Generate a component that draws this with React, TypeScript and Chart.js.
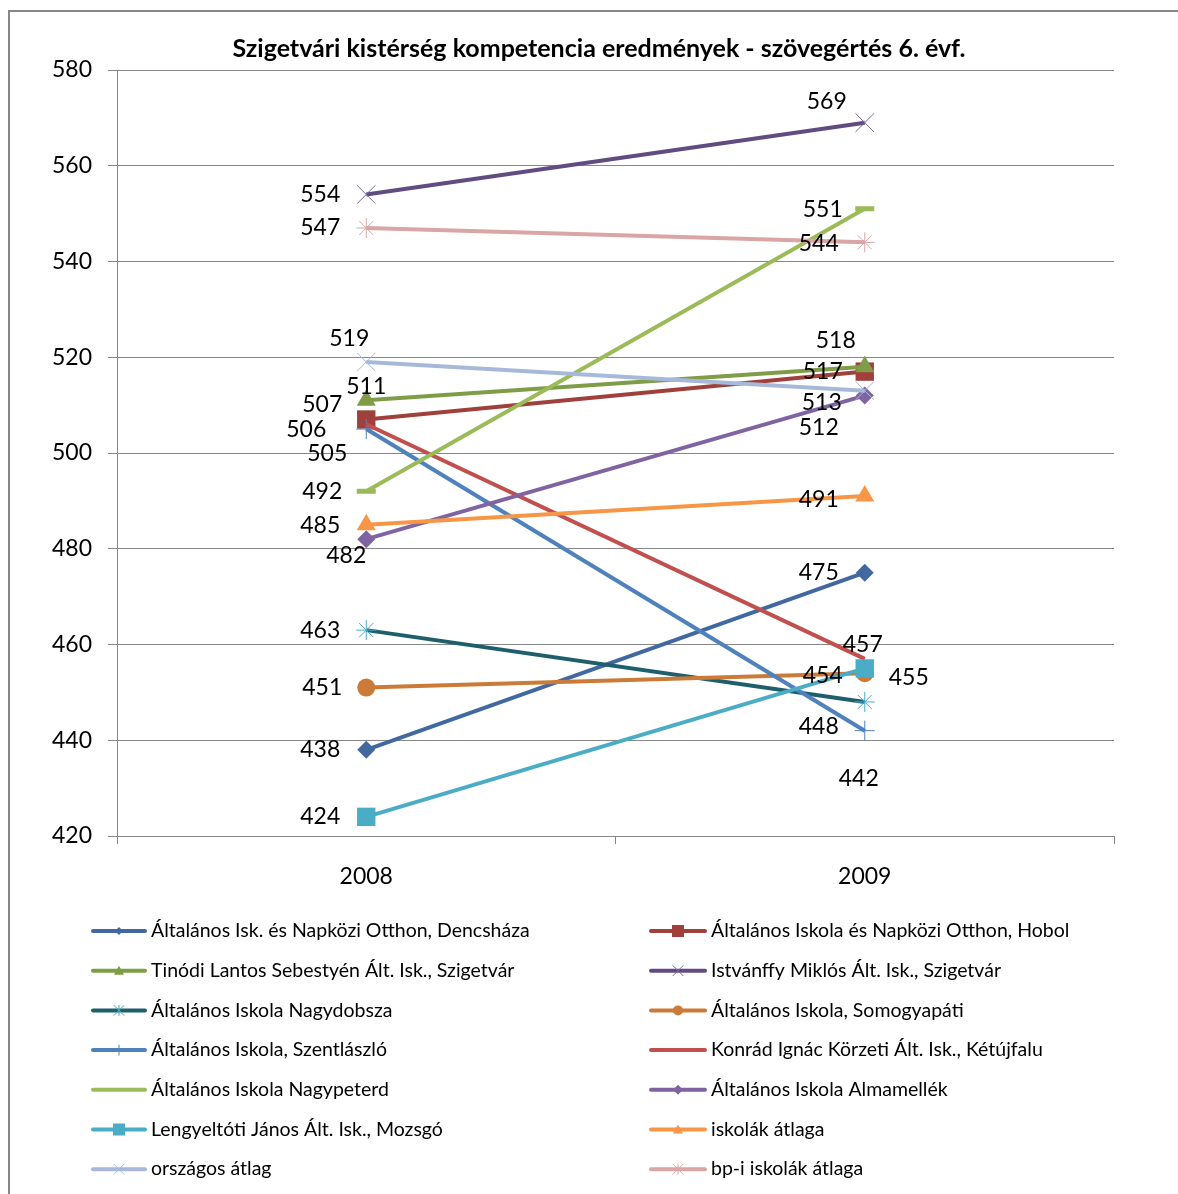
import React, { useEffect, useRef } from "react";
import { Chart, registerables } from "chart.js";
Chart.register(...registerables);

// ---- data ----
const years = ["2008", "2009"];
const seriesNames = [
  "Általános Isk. és Napközi Otthon, Dencsháza",
  "Általános Iskola és Napközi Otthon, Hobol",
  "Tinódi Lantos Sebestyén Ált. Isk., Szigetvár",
  "Istvánffy Miklós Ált. Isk., Szigetvár",
  "Általános Iskola Nagydobsza",
  "Általános Iskola, Somogyapáti",
  "Általános Iskola, Szentlászló",
  "Konrád Ignác Körzeti Ált. Isk., Kétújfalu",
  "Általános Iskola Nagypeterd",
  "Általános Iskola Almamellék",
  "Lengyeltóti János Ált. Isk., Mozsgó",
  "iskolák átlaga",
  "országos átlag",
  "bp-i iskolák átlaga",
];
const dencshaza = [438, 475];
const hobol = [507, 517];
const tinodi = [511, 518];
const istvanffy = [554, 569];
const nagydobsza = [463, 448];
const somogyapati = [451, 454];
const szentlaszlo = [505, 442];
const ketujfalu = [506, 457];
const nagypeterd = [492, 551];
const almamellek = [482, 512];
const mozsgo = [424, 455];
const iskolakAtlaga = [485, 491];
const orszagosAtlag = [519, 513];
const bpAtlaga = [547, 544];
const seriesValues = [
  dencshaza, hobol, tinodi, istvanffy, nagydobsza, somogyapati, szentlaszlo,
  ketujfalu, nagypeterd, almamellek, mozsgo, iskolakAtlaga, orszagosAtlag, bpAtlaga,
];
const yMin = 420;
const yMax = 580;
const yStep = 20;
const chartTitle = "Szigetvári kistérség kompetencia eredmények - szövegértés 6. évf.";

// ---- styles ----
const lineColors = [
  "#4169A0", "#A0403D", "#7F9C46", "#624B80", "#1F5F6C", "#CC7A38", "#4F81BD",
  "#C0504D", "#9BBB59", "#8064A2", "#4BACC6", "#F79646", "#A7B9D9", "#D9A6A5",
];
const markerColors = [
  "#4169A0", "#A0403D", "#7F9C46", "#7A68A0", "#4BACC6", "#CC7A38", "#4F81BD",
  "#C0504D", "#9BBB59", "#8064A2", "#4BACC6", "#F79646", "#A7B9D9", "#D9A6A5",
];
const markerStyles = [
  "rectRot", "rect", "triangle", "crossRot", "star", "circle", "cross",
  "none", "line", "rectRot", "rect", "triangle", "crossRot", "star",
];
const markerRadius = [9, 13, 11, 13, 10, 9, 10, 0, 9.5, 9, 13, 11, 13, 10];
// label offsets (dx, dy) from point, per series per category
const labelOffsets = [
  [[-46, 0], [-46, 0]],
  [[-44, -15], [-42, 0]],
  [[0, -14], [-29, -26]],
  [[-46, 0], [-38, -21]],
  [[-46, 0], [-46, 25]],
  [[-44, 0], [-42, 2]],
  [[-39, 25], [-6, 48]],
  [[-60, 5], [-2, -14]],
  [[-44, 0], [-42, 1]],
  [[-20, 16], [-46, 32]],
  [[-46, 0], [44, 9]],
  [[-46, 1], [-46, 3]],
  [[-17, -23], [-43, 12]],
  [[-46, 0], [-46, 1]],
];
const FONT = "Lato, 'Open Sans', sans-serif";
const GRID = "#878787";

function drawMarker(ctx: CanvasRenderingContext2D, style: string, x: number, y: number, r: number, color: string) {
  ctx.save();
  ctx.fillStyle = color;
  ctx.strokeStyle = color;
  ctx.lineWidth = 1;
  ctx.beginPath();
  if (style === "rect") {
    ctx.rect(x - r, y - r, 2 * r, 2 * r);
    ctx.fill();
  } else if (style === "rectRot") {
    ctx.moveTo(x - r, y); ctx.lineTo(x, y - r); ctx.lineTo(x + r, y); ctx.lineTo(x, y + r);
    ctx.closePath(); ctx.fill();
  } else if (style === "triangle") {
    ctx.moveTo(x, y - r); ctx.lineTo(x + r, y + r * 0.8); ctx.lineTo(x - r, y + r * 0.8);
    ctx.closePath(); ctx.fill();
  } else if (style === "circle") {
    ctx.arc(x, y, r, 0, Math.PI * 2); ctx.fill();
  } else if (style === "cross") {
    ctx.moveTo(x, y - r); ctx.lineTo(x, y + r); ctx.stroke();
  } else if (style === "crossRot") {
    ctx.moveTo(x - r, y - r); ctx.lineTo(x + r, y + r);
    ctx.moveTo(x + r, y - r); ctx.lineTo(x - r, y + r); ctx.stroke();
  } else if (style === "star") {
    ctx.moveTo(x, y - r); ctx.lineTo(x, y + r);
    ctx.moveTo(x - r, y - r); ctx.lineTo(x + r, y + r);
    ctx.moveTo(x + r, y - r); ctx.lineTo(x - r, y + r); ctx.stroke();
  }
  ctx.restore();
}

const legendMarkerSize = [4, 6, 5, 5, 5, 5, 5, 0, 0, 5, 6, 5, 5, 5];

const legendPlugin = {
  id: "customLegend",
  afterDraw(chart: any) {
    const ctx = chart.ctx as CanvasRenderingContext2D;
    ctx.save();
    ctx.font = `19.5px ${FONT}`;
    ctx.textBaseline = "middle";
    ctx.textAlign = "left";
    seriesNames.forEach((name, i) => {
      const col = i % 2;
      const row = Math.floor(i / 2);
      const y = 931 + row * 39.7;
      const x0 = col === 0 ? 93 : 651;
      const x1 = col === 0 ? 145 : 705;
      ctx.strokeStyle = lineColors[i];
      ctx.lineWidth = 4;
      ctx.lineCap = "round";
      ctx.beginPath();
      ctx.moveTo(x0, y); ctx.lineTo(x1, y); ctx.stroke();
      drawMarker(ctx, markerStyles[i], (x0 + x1) / 2, y, legendMarkerSize[i], markerColors[i]);
      ctx.fillStyle = "#000";
      ctx.fillText(name, col === 0 ? 151 : 711, y);
    });
    ctx.restore();
  },
};

const titlePlugin = {
  id: "customTitle",
  afterDraw(chart: any) {
    const ctx = chart.ctx as CanvasRenderingContext2D;
    ctx.save();
    ctx.font = `bold 25px ${FONT}`;
    ctx.fillStyle = "#000";
    ctx.textAlign = "center";
    ctx.textBaseline = "middle";
    ctx.fillText(chartTitle, 599, 49);
    ctx.restore();
  },
};

const labelPlugin = {
  id: "pointLabels",
  afterDatasetsDraw(chart: any) {
    const ctx = chart.ctx as CanvasRenderingContext2D;
    ctx.save();
    ctx.font = `23px ${FONT}`;
    ctx.fillStyle = "#000";
    ctx.textAlign = "center";
    ctx.textBaseline = "middle";
    chart.data.datasets.forEach((ds: any, i: number) => {
      const meta = chart.getDatasetMeta(i);
      meta.data.forEach((pt: any, j: number) => {
        const [dx, dy] = labelOffsets[i][j];
        ctx.fillText(String(ds.data[j]), pt.x + dx, pt.y + dy);
      });
    });
    ctx.restore();
  },
};

export default function App() {
  const ref = useRef<HTMLCanvasElement>(null);
  useEffect(() => {
    if (!ref.current) return;
    const datasets = seriesNames.map((name, i) => ({
      label: name,
      data: seriesValues[i],
      borderColor: lineColors[i],
      backgroundColor: markerColors[i],
      borderWidth: 4,
      pointStyle: markerStyles[i] === "none" ? false : markerStyles[i],
      pointRadius: markerRadius[i],
      pointBorderColor: markerColors[i],
      pointBackgroundColor: markerColors[i],
      pointBorderWidth: markerStyles[i] === "line" ? 5 : ["cross", "crossRot", "star"].includes(markerStyles[i]) ? 1 : 0,
      order: seriesNames.length - i,
      tension: 0,
    }));
    const chart = new Chart(ref.current, {
      type: "line",
      data: { labels: years, datasets: datasets as any },
      options: {
        responsive: false,
        animation: false,
        layout: { padding: { left: 0, right: 64, top: 70, bottom: 298 } },
        plugins: {
          legend: { display: false },
          tooltip: { enabled: false },
          title: { display: false },
        },
        scales: {
          x: {
            type: "category",
            offset: true,
            grid: { display: true, drawOnChartArea: false, drawTicks: true, tickLength: 8, color: GRID, offset: true },
            border: { display: true, color: GRID, width: 1 },
            ticks: { color: "#000", font: { family: FONT, size: 23 }, padding: 19 },
            afterFit: (s: any) => { s.height = 60; },
          },
          y: {
            min: yMin,
            max: yMax,
            ticks: { stepSize: yStep, color: "#000", font: { family: FONT, size: 23 }, padding: 16 },
            grid: { color: GRID, lineWidth: 1, tickLength: 9 },
            border: { display: true, color: GRID, width: 1 },
            afterFit: (s: any) => { s.width = 117; },
          },
        },
      },
      plugins: [labelPlugin, legendPlugin, titlePlugin],
    });
    return () => chart.destroy();
  }, []);
  return (
    <div style={{ position: "absolute", left: 0, top: 0, width: 1178, height: 1194, background: "#fff" }}>
      <canvas ref={ref} width={1178} height={1194} style={{ position: "absolute", left: 0, top: 0 }} />
      <div style={{ position: "absolute", left: 8, top: 10, width: 1170, height: 2, background: GRID }} />
      <div style={{ position: "absolute", left: 8, top: 10, width: 2, height: 1184, background: GRID }} />
    </div>
  );
}
